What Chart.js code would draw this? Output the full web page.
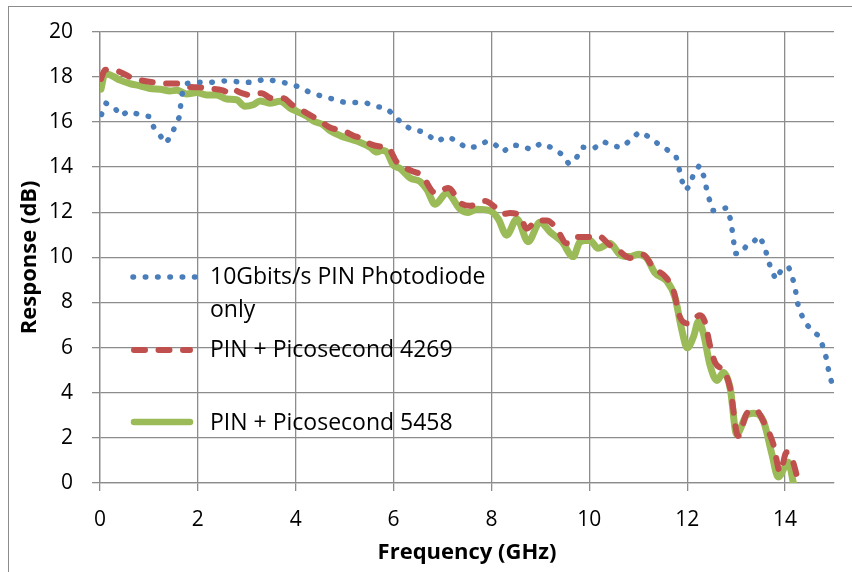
<!DOCTYPE html>
<html>
<head>
<meta charset="utf-8">
<title>Frequency Response</title>
<script src="https://cdn.jsdelivr.net/npm/chart.js@4.4.1/dist/chart.umd.min.js"></script>
<style>
    html, body { margin: 0; padding: 0; background: #fff; }
    #wrap { position: relative; width: 852px; height: 572px; }
</style>
</head>
<body>
<div id="wrap"><canvas id="response-chart" width="852" height="572"></canvas></div>
<script>
// Photodiode only (dotted blue)
const pinFreq = [0.03, 0.12, 0.29, 0.42, 0.58, 0.80, 1.02, 1.10, 1.23, 1.34, 1.45, 1.54, 1.63, 1.65, 1.69, 1.77,
    1.98, 2.20, 2.43, 2.66, 2.90, 3.14, 3.37, 3.61, 3.85, 4.08, 4.29, 4.52, 4.76, 4.97, 5.21, 5.43, 5.62, 5.83,
    6.00, 6.16, 6.36, 6.60, 6.79, 6.89, 7.08, 7.29, 7.48, 7.71, 7.91, 8.07, 8.24, 8.42, 8.58, 8.81, 9.01, 9.24,
    9.44, 9.58, 9.74, 9.85, 10.09, 10.29, 10.48, 10.68, 10.85, 11.02, 11.20, 11.39, 11.58, 11.77, 11.83, 11.88,
    11.97, 12.07, 12.13, 12.25, 12.34, 12.39, 12.45, 12.52, 12.69, 12.81, 12.88, 12.92, 12.95, 12.98, 13.10,
    13.23, 13.37, 13.47, 13.58, 13.64, 13.71, 13.81, 13.92, 14.07, 14.15, 14.21, 14.24, 14.31, 14.41, 14.54,
    14.71, 14.78, 14.85, 14.89, 14.95];
const pinResp = [16.33, 16.83, 16.65, 16.27, 16.47, 16.33, 16.23, 15.75, 15.39, 15.05, 15.37, 15.84, 16.26, 16.79, 17.37, 17.70,
    17.77, 17.73, 17.80, 17.83, 17.74, 17.76, 17.90, 17.80, 17.70, 17.54, 17.30, 17.15, 17.01, 16.88, 16.86, 16.85, 16.69, 16.62,
    16.33, 15.94, 15.67, 15.56, 15.28, 15.13, 15.35, 15.17, 14.84, 14.91, 15.15, 15.00, 14.68, 14.97, 14.95, 14.78, 15.05, 14.85,
    14.56, 14.14, 14.42, 14.88, 14.82, 15.13, 14.92, 14.88, 15.23, 15.55, 15.36, 15.05, 14.78, 14.48, 13.97, 13.46,
    12.97, 13.23, 13.72, 14.07, 13.59, 13.09, 12.58, 12.07, 12.12, 12.20, 11.71, 11.19, 10.69, 10.17, 10.17,
    10.57, 10.72, 10.95, 10.50, 9.99, 9.50, 9.02, 9.43, 9.59, 9.11, 8.62, 8.08, 7.58, 7.11, 6.77,
    6.48, 5.99, 5.48, 4.98, 4.47];

// PIN + Picosecond 4269 (dashed red)
const ps4269Freq = [0.02, 0.10, 0.22, 0.41, 0.68, 0.82, 1.16, 1.36, 1.57, 1.77, 2.04, 2.25, 2.49, 2.59, 2.66, 2.90, 3.07,
    3.30, 3.51, 3.75, 3.92, 4.16, 4.50, 4.70, 4.97, 5.18, 5.38, 5.52, 5.72, 5.89, 6.06, 6.20, 6.40, 6.57, 6.85, 7.12,
    7.36, 7.56, 7.87, 8.04, 8.24, 8.38, 8.58, 8.72, 8.93, 9.13, 9.33, 9.54, 9.71, 9.98, 10.18, 10.42, 10.56, 10.83,
    11.10, 11.31, 11.55, 11.72, 11.85, 12.02, 12.26, 12.36, 12.47, 12.57, 12.77, 12.88, 13.04, 13.22, 13.39, 13.59,
    13.76, 13.90, 14.03, 14.14, 14.28];
const ps4269Resp = [17.90, 18.30, 18.32, 18.21, 17.92, 17.85, 17.73, 17.70, 17.70, 17.56, 17.53, 17.48, 17.41, 17.34, 17.48, 17.27, 17.19,
    17.27, 17.05, 17.05, 16.76, 16.47, 16.04, 15.75, 15.61, 15.39, 15.24, 15.02, 14.91, 14.85, 14.23, 14.01, 13.80, 13.65, 12.85, 13.07,
    12.42, 12.28, 12.49, 12.28, 11.92, 11.96, 11.84, 11.27, 11.63, 11.63, 11.27, 10.62, 10.90, 10.90, 10.95, 10.54, 10.37, 9.97,
    10.11, 9.53, 9.15, 8.52, 7.36, 7.07, 7.43, 7.15, 6.06, 5.34, 4.90, 4.18, 2.08, 3.09, 3.24, 2.59,
    1.72, 0.49, 1.36, 1.07, 0.00];

// PIN + Picosecond 5458 (solid green)
const ps5458Freq = [0.02, 0.10, 0.20, 0.41, 0.61, 0.82, 1.02, 1.23, 1.43, 1.57, 1.77, 1.98, 2.18, 2.38, 2.59, 2.79, 2.96,
    3.13, 3.27, 3.47, 3.68, 3.88, 4.02, 4.22, 4.36, 4.56, 4.70, 4.91, 5.11, 5.31, 5.52, 5.66, 5.75, 5.86, 5.99, 6.13,
    6.34, 6.54, 6.68, 6.85, 7.09, 7.36, 7.53, 7.70, 7.97, 8.14, 8.31, 8.52, 8.75, 8.99, 9.20, 9.44, 9.67, 9.81, 10.01,
    10.18, 10.42, 10.63, 10.83, 11.00, 11.17, 11.34, 11.58, 11.75, 11.89, 12.00, 12.13, 12.23, 12.33, 12.47, 12.61,
    12.74, 12.88, 13.01, 13.22, 13.36, 13.56, 13.73, 13.86, 14.07, 14.17];
const ps5458Resp = [17.45, 18.13, 18.09, 17.85, 17.70, 17.60, 17.48, 17.45, 17.37, 17.40, 17.24, 17.30, 17.19, 17.19, 17.01, 16.98, 16.69,
    16.76, 16.93, 16.83, 16.91, 16.62, 16.47, 16.26, 16.04, 15.87, 15.61, 15.39, 15.24, 15.10, 14.88, 14.66, 14.74, 14.66, 14.09, 13.94,
    13.51, 13.36, 13.00, 12.35, 12.85, 12.13, 11.99, 12.13, 12.06, 11.70, 10.98, 11.70, 10.69, 11.55, 11.12, 10.69, 10.03, 10.69, 10.76,
    10.40, 10.62, 10.11, 10.03, 10.14, 9.97, 9.31, 8.95, 8.23, 6.78, 5.99, 6.49, 7.15, 6.64, 5.19, 4.54,
    4.90, 4.18, 2.16, 3.02, 3.09, 2.73, 1.29, 0.27, 0.92, 0.00];

const seriesNames = ['10Gbits/s PIN Photodiode', 'PIN + Picosecond 4269', 'PIN + Picosecond 5458'];
const freqTicks = [0, 2, 4, 6, 8, 10, 12, 14];

const BLUE = '#4a7ebb';
const RED = '#c0504d';
const GREEN = '#9bbb59';
const GRID = '#8c8c8c';
const FONT = '"Open Sans", Lato, sans-serif';

function toPoints(xs, ys) {
    return xs.map((x, i) => ({ x: x, y: ys[i] }));
}

// Outer frame of the chart area (only left and top edges fall on the page)
const framePlugin = {
    id: 'frame',
    beforeDraw(chart) {
        const ctx = chart.ctx;
        ctx.save();
        ctx.strokeStyle = GRID;
        ctx.lineWidth = 1;
        ctx.strokeRect(8.5, 6.5, 900, 700);
        ctx.restore();
    }
};

// Legend sitting inside the plot, drawn by hand
const legendPlugin = {
    id: 'inlineLegend',
    afterDraw(chart) {
        const ctx = chart.ctx;
        ctx.save();
        ctx.lineCap = 'round';

        // dotted sample
        ctx.strokeStyle = BLUE;
        ctx.lineWidth = 5.5;
        ctx.setLineDash([0.5, 11.8]);
        ctx.beginPath();
        ctx.moveTo(133, 277);
        ctx.lineTo(196, 277);
        ctx.stroke();

        // dashed sample
        ctx.strokeStyle = RED;
        ctx.lineWidth = 6;
        ctx.setLineDash([11, 13.5]);
        ctx.beginPath();
        ctx.moveTo(134, 350);
        ctx.lineTo(190, 350);
        ctx.stroke();

        // solid sample
        ctx.strokeStyle = GREEN;
        ctx.lineWidth = 6.5;
        ctx.setLineDash([]);
        ctx.beginPath();
        ctx.moveTo(134, 422);
        ctx.lineTo(190, 422);
        ctx.stroke();

        ctx.fillStyle = '#000';
        ctx.font = '23px ' + FONT;
        ctx.textBaseline = 'middle';
        ctx.textAlign = 'left';
        ctx.fillText(seriesNames[0], 210, 277);
        ctx.fillText('only', 210, 310);
        ctx.fillText(seriesNames[1], 210, 350);
        ctx.fillText(seriesNames[2], 210, 423);
        ctx.restore();
    }
};

const ctx = document.getElementById('response-chart').getContext('2d');

const responseChart = new Chart(ctx, {
    type: 'line',
    data: {
        datasets: [
            {
                label: seriesNames[0],
                data: toPoints(pinFreq, pinResp),
                borderColor: BLUE,
                borderWidth: 5.5,
                borderDash: [0.5, 11.8],
                borderCapStyle: 'round',
                pointRadius: 0,
                tension: 0,
                fill: false
            },
            {
                label: seriesNames[1],
                data: toPoints(ps4269Freq, ps4269Resp),
                borderColor: RED,
                borderWidth: 6,
                borderDash: [11, 13.5],
                borderCapStyle: 'round',
                borderJoinStyle: 'round',
                pointRadius: 0,
                cubicInterpolationMode: 'monotone',
                fill: false
            },
            {
                label: seriesNames[2],
                data: toPoints(ps5458Freq, ps5458Resp),
                borderColor: GREEN,
                borderWidth: 7,
                borderCapStyle: 'round',
                borderJoinStyle: 'round',
                pointRadius: 0,
                cubicInterpolationMode: 'monotone',
                fill: false
            }
        ]
    },
    options: {
        responsive: false,
        animation: false,
        events: [],
        layout: {
            padding: { top: 22, right: 18, left: 0, bottom: 0 }
        },
        plugins: {
            legend: { display: false },
            tooltip: { enabled: false }
        },
        scales: {
            x: {
                type: 'linear',
                min: 0,
                max: 15,
                afterBuildTicks(scale) {
                    scale.ticks = freqTicks.map(v => ({ value: v }));
                },
                afterFit(scale) {
                    scale.height = 89;
                },
                ticks: {
                    color: '#000',
                    font: { family: FONT, size: 21 },
                    padding: 16,
                    maxRotation: 0
                },
                grid: { color: GRID, lineWidth: 1.3, tickLength: 8 },
                border: { color: GRID, width: 1.3 },
                title: {
                    display: true,
                    text: 'Frequency (GHz)',
                    color: '#000',
                    font: { family: FONT, size: 22, weight: 'bold' },
                    padding: { top: 0, bottom: 6 }
                }
            },
            y: {
                min: 0,
                max: 20,
                afterFit(scale) {
                    scale.width = 100;
                },
                ticks: {
                    stepSize: 2,
                    color: '#000',
                    font: { family: FONT, size: 21 },
                    padding: 19
                },
                grid: { color: GRID, lineWidth: 1.3, tickLength: 8 },
                border: { color: GRID, width: 1.3 },
                title: {
                    display: true,
                    text: 'Response (dB)',
                    color: '#000',
                    font: { family: FONT, size: 22, weight: 'bold' },
                    padding: { top: 17, bottom: 0 }
                }
            }
        }
    },
    plugins: [framePlugin, legendPlugin]
});
</script>
</body>
</html>
